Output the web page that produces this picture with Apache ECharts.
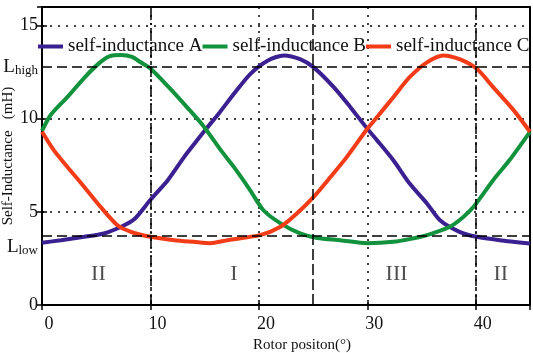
<!DOCTYPE html>
<html>
<head>
<meta charset="utf-8">
<script src="https://cdn.jsdelivr.net/npm/echarts@6/dist/echarts.min.js"></script>
<style>html,body{margin:0;padding:0;background:#fff;}#c{width:533px;height:353px;}</style>
</head>
<body>
<div id="c"></div>
<script>
var seriesNames = ['self-inductance A', 'self-inductance B', 'self-inductance C'];
var xA = [0, 1.75, 3.9, 5.7, 7.3, 8.5, 10, 11.6, 13.1, 14.3, 15.2, 16.2, 17.7, 19.2, 20.8, 22.3, 23.8, 25.05, 26.9, 28.4, 30, 30.9, 32.4, 33.9, 35.5, 36.7, 38.5, 40.1, 42.2, 45];
var yA = [3.34, 3.48, 3.66, 3.84, 4.2, 4.6, 5.65, 6.7, 7.94, 8.84, 9.5, 10.2, 11.34, 12.4, 13.12, 13.4, 13.2, 12.76, 11.7, 10.65, 9.46, 8.84, 7.77, 6.52, 5.45, 4.55, 3.93, 3.66, 3.48, 3.3];
var xB = [0, 0.8, 2.4, 3.9, 5.3, 6.2, 7.3, 8.3, 9.1, 10, 11.6, 13.4, 14.9, 16.5, 17.7, 19.2, 20.4, 22, 23.8, 25.4, 27.5, 30, 32.4, 34, 35.5, 37.6, 38.8, 39.8, 41.6, 43.1, 45];
var yB = [9.35, 10.2, 11.2, 12.2, 13.0, 13.35, 13.42, 13.32, 13.03, 12.7, 11.75, 10.6, 9.6, 8.3, 7.4, 6.16, 5.1, 4.38, 3.84, 3.6, 3.48, 3.32, 3.39, 3.55, 3.75, 4.2, 4.7, 5.27, 6.7, 7.77, 9.3];
var xC = [0, 1.1, 2.36, 3.9, 5.4, 6.96, 8.2, 10, 12.2, 14, 15.5, 17.1, 20.1, 22, 23.5, 25.05, 26.6, 28.1, 30, 30.9, 32.4, 33.9, 35.5, 37, 38.5, 40.1, 41.6, 43.5, 45];
var yC = [9.3, 8.3, 7.4, 6.34, 5.27, 4.28, 3.93, 3.66, 3.48, 3.39, 3.32, 3.48, 3.75, 4.2, 4.91, 5.8, 6.87, 7.94, 9.46, 10.09, 11.16, 12.23, 13.03, 13.4, 13.2, 12.68, 11.7, 10.45, 9.3];
var xTicks = [0, 10, 20, 30, 40];
var yTicks = [0, 5, 10, 15];
var lHigh = 12.77, lLow = 3.7;
var regionNames = ['II', 'I', 'III', 'II'];
var regionX = [5.2, 17.7, 32.7, 42.3];
var regionY = [1.66, 1.66, 1.66, 1.66];
var xBoundaries = [10, 25, 40];

var colors = ['#3a2090', '#12923c', '#f23c18'];
var FONT = "'Liberation Serif', 'Times New Roman', serif";

function pairs(xs, ys) { return xs.map(function (x, i) { return [x, ys[i]]; }); }
var curves = [pairs(xA, yA), pairs(xB, yB), pairs(xC, yC)];

var chart = echarts.init(document.getElementById('c'), null, { renderer: 'canvas' });

var series = [{
  name: 'regions',
  type: 'scatter',
  z: 1,
  symbolSize: 0,
  silent: true,
  data: regionX.map(function (x, i) { return { value: [x, regionY[i]], name: regionNames[i] }; }),
  label: { show: true, position: 'inside', formatter: '{b}', fontFamily: FONT, fontSize: 22, color: '#222' },
  markLine: {
    silent: true,
    symbol: 'none',
    animation: false,
    data: [
      { yAxis: lHigh, lineStyle: { type: [10, 5] }, label: { show: true, position: 'start', distance: 4, formatter: '{L|L}{s|high}' } },
      { yAxis: lLow, lineStyle: { type: [10, 5] }, label: { show: true, position: 'start', distance: 4, formatter: '{L|L}{s|low}', padding: [22, 0, 0, 0] } },
      { xAxis: xBoundaries[0], lineStyle: { type: [11, 3, 2, 3] }, label: { show: false } },
      { xAxis: xBoundaries[1], lineStyle: { type: [11, 4] }, label: { show: false } },
      { xAxis: xBoundaries[2], lineStyle: { type: [11, 3, 2, 3] }, label: { show: false } }
    ],
    lineStyle: { color: '#000', width: 1.5 },
    label: {
      rich: {
        L: { fontFamily: FONT, fontSize: 19, lineHeight: 19, color: '#111', verticalAlign: 'bottom' },
        s: { fontFamily: FONT, fontSize: 13, lineHeight: 13, color: '#111', verticalAlign: 'bottom' }
      }
    }
  }
}];
for (var k = 0; k < 3; k++) {
  series.push({
    name: seriesNames[k],
    type: 'line',
    z: 3,
    data: curves[k],
    smooth: 0.25,
    showSymbol: false,
    symbol: 'none',
    lineStyle: { color: colors[k], width: 4 },
    itemStyle: { color: colors[k] },
    animation: false
  });
}

chart.setOption({
  animation: false,
  backgroundColor: '#fff',
  grid: { left: 42, right: 3, top: 7, bottom: 48, containLabel: false, outerBoundsMode: 'none', show: true, borderColor: '#000', borderWidth: 2, backgroundColor: 'transparent' },
  legend: {
    data: seriesNames,
    left: 38,
    top: 37,
    width: 560,
    padding: 0,
    itemWidth: 25,
    itemHeight: 4,
    itemGap: 0,
    icon: 'rect',
    textStyle: { fontFamily: FONT, fontSize: 19, color: '#111' },
    selectedMode: false
  },
  xAxis: [{
    type: 'value', min: 0, max: 45, interval: 10,
    name: 'Rotor positon(°)', nameLocation: 'middle', nameGap: 33, nameMoveOverlap: false,
    nameTextStyle: { fontFamily: FONT, fontSize: 15, color: '#111', padding: [0, 0, 0, 32] },
    axisLine: { lineStyle: { color: '#000', width: 2 } },
    axisTick: { inside: true, length: 5, lineStyle: { color: '#000', width: 1.5 } },
    axisLabel: {
      margin: 10, fontFamily: FONT, fontSize: 18, color: '#111', showMaxLabel: false, padding: [0, 0, 0, 14],
      formatter: function (v) { return xTicks.indexOf(v) >= 0 ? String(v) : ''; }
    },
    splitLine: { show: true, lineStyle: { color: '#000', width: 1.5, type: [2, 6] } }
  }, {
    type: 'value', min: 0, max: 45, interval: 10, position: 'top',
    axisLine: { show: true, lineStyle: { color: '#000', width: 2 } },
    axisTick: { inside: true, length: 5, lineStyle: { color: '#000', width: 1.5 } },
    axisLabel: { show: false }, splitLine: { show: false }
  }],
  yAxis: [{
    type: 'value', min: 0, max: 16, interval: 5,
    name: 'Self-Inductance   (mH)', nameLocation: 'middle', nameGap: 26, nameMoveOverlap: false,
    nameTextStyle: { fontFamily: FONT, fontSize: 15, color: '#111' },
    axisLine: { show: true, lineStyle: { color: '#000', width: 2 } },
    axisTick: { show: true, inside: true, length: 5, lineStyle: { color: '#000', width: 1.5 } },
    axisLabel: {
      margin: 4, fontFamily: FONT, fontSize: 18, color: '#111', showMaxLabel: false,
      formatter: function (v) { return yTicks.indexOf(v) >= 0 ? String(v) : ''; }
    },
    splitLine: { show: true, lineStyle: { color: '#000', width: 1.5, type: [2, 6] } }
  }, {
    type: 'value', min: 0, max: 16, interval: 5, position: 'right',
    axisLine: { show: true, lineStyle: { color: '#000', width: 2 } },
    axisTick: { show: true, inside: true, length: 5, lineStyle: { color: '#000', width: 1.5 } },
    axisLabel: { show: false }, splitLine: { show: false }
  }],
  series: series
});
</script>
</body>
</html>
